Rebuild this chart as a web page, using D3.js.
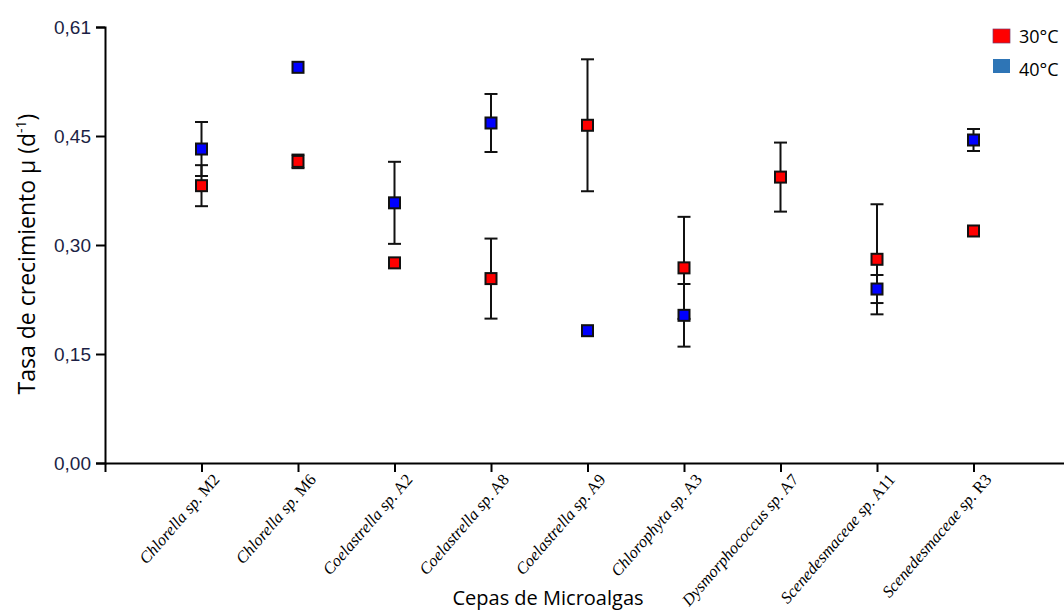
<!DOCTYPE html>
<html>
<head>
<meta charset="utf-8">
<script src="https://cdn.jsdelivr.net/npm/d3@7"></script>
<style>
  body { margin: 0; background: #fff; }
  svg { display: block; }
</style>
</head>
<body>
<svg id="chart" width="1064" height="612"></svg>
<script>
// cepas (eje x)
let strains = [
  ['Chlorella', 'sp. M2'],
  ['Chlorella', 'sp. M6'],
  ['Coelastrella', 'sp. A2'],
  ['Coelastrella', 'sp. A8'],
  ['Coelastrella', 'sp. A9'],
  ['Chlorophyta', 'sp. A3'],
  ['Dysmorphococcus', 'sp. A7'],
  ['Scenedesmaceae', 'sp. A11'],
  ['Scenedesmaceae', 'sp. R3']
];

// tasa de crecimiento µ (d-1)
let mu30 = [0.388, 0.422, 0.280, 0.258, 0.4725, 0.273, 0.400, 0.285, 0.3246];
let err30 = [0.0287, 0.0095, 0.004, 0.056, 0.0923, 0.0714, 0.0483, 0.077, 0];
let mu40 = [0.4393, 0.5536, 0.364, 0.4757, 0.1851, 0.2066, null, 0.2434, 0.4519];
let err40 = [0.0378, 0, 0.0574, 0.0406, 0, 0.0438, 0, 0.0196, 0.0154];

let yMax = 0.61;
let yTickLabels = ['0,00', '0,15', '0,30', '0,45', '0,61'];

let series = [
  { name: '30°C', values: mu30, errors: err30, fill: '#ff0000', legend: '#ff0000' },
  { name: '40°C', values: mu40, errors: err40, fill: '#0000ff', legend: '#2e75b6' }
];

let svg = d3.select('#chart');

let mLeft = 105, mTop = 27, mBottom = 463;

let x = d3.scaleLinear()
  .domain([0, 10])
  .range([mLeft, mLeft + 965]);

let y = d3.scaleLinear()
  .domain([0, yMax])
  .range([mBottom, mTop]);

let yTicks = yTickLabels.map((d, i) => i * yMax / (yTickLabels.length - 1));

// eje y
let yAxis = d3.axisLeft(y)
  .tickValues(yTicks)
  .tickFormat((d, i) => yTickLabels[i])
  .tickSize(9)
  .tickPadding(5);

let gy = svg.append('g')
  .attr('transform', 'translate(' + mLeft + ',0)')
  .call(yAxis);
gy.select('.domain').attr('stroke', '#000').attr('stroke-width', 2);
gy.selectAll('.tick line').attr('stroke', '#000').attr('stroke-width', 2);
gy.selectAll('.tick text')
  .attr('fill', '#1c1f45')
  .style('font-family', 'Liberation Sans, Arial, sans-serif')
  .style('font-size', '19px');

// eje x
let xAxis = d3.axisBottom(x)
  .tickValues(d3.range(0, strains.length + 1))
  .tickFormat('')
  .tickSize(9)
  .tickSizeOuter(0);

let gx = svg.append('g')
  .attr('transform', 'translate(0,' + mBottom + ')')
  .call(xAxis);
gx.select('.domain').attr('stroke', '#000').attr('stroke-width', 2);
gx.selectAll('.tick line').attr('stroke', '#000').attr('stroke-width', 2);

// etiquetas inclinadas
let labels = svg.append('g');
strains.forEach(function(s, i) {
  let tx = x(i + 1) + 19;
  let ty = mBottom + 17;
  let t = labels.append('text')
    .attr('transform', 'translate(' + tx + ',' + ty + ') rotate(-49)')
    .attr('text-anchor', 'end')
    .style('font-family', 'Liberation Serif, Times New Roman, serif')
    .style('font-size', '16.5px')
    .attr('fill', '#000');
  t.append('tspan').style('font-style', 'italic').text(s[0] + ' sp.');
  t.append('tspan').text(' ' + s[1].replace('sp. ', ''));
});

// titulos
svg.append('text')
  .attr('x', 548)
  .attr('y', 605)
  .attr('text-anchor', 'middle')
  .style('font-family', 'Open Sans, Noto Sans, sans-serif')
  .style('font-size', '20px')
  .text('Cepas de Microalgas');

let yt = svg.append('text')
  .attr('transform', 'translate(35,254) rotate(-90)')
  .attr('text-anchor', 'middle')
  .style('font-family', 'Open Sans, Noto Sans, sans-serif')
  .style('font-size', '23px');
yt.append('tspan').text('Tasa de crecimiento µ  (d');
yt.append('tspan').attr('dy', -9).style('font-size', '14px').text('-1');
yt.append('tspan').attr('dy', 9).text(')');

// barras de error
let capW = 13;
let bars = svg.append('g')
  .attr('stroke', '#111')
  .attr('stroke-width', 2)
  .attr('fill', 'none');

series.forEach(function(s) {
  s.values.forEach(function(v, i) {
    if (v === null || !s.errors[i]) return;
    let cx = x(i + 1);
    let y1 = y(v + s.errors[i]);
    let y2 = y(v - s.errors[i]);
    bars.append('line').attr('x1', cx).attr('x2', cx).attr('y1', y1).attr('y2', y2);
    bars.append('line').attr('x1', cx - capW / 2).attr('x2', cx + capW / 2).attr('y1', y1).attr('y2', y1);
    bars.append('line').attr('x1', cx - capW / 2).attr('x2', cx + capW / 2).attr('y1', y2).attr('y2', y2);
  });
});

// marcadores
let size = 11;
series.forEach(function(s) {
  svg.append('g')
    .selectAll('rect')
    .data(s.values.map((v, i) => ({ v: v, i: i })).filter(d => d.v !== null))
    .enter()
    .append('rect')
    .attr('x', d => x(d.i + 1) - size / 2)
    .attr('y', d => y(d.v) - size / 2)
    .attr('width', size)
    .attr('height', size)
    .attr('fill', s.fill)
    .attr('stroke', '#111')
    .attr('stroke-width', 2);
});

// leyenda
let legend = svg.append('g');
series.forEach(function(s, i) {
  legend.append('rect')
    .attr('x', 993)
    .attr('y', 29 + i * 30)
    .attr('width', 17)
    .attr('height', 14)
    .attr('fill', s.legend)
    .attr('stroke', i === 0 ? '#7a3a6a' : 'none')
    .attr('stroke-width', 0.7);
  legend.append('text')
    .attr('x', 1019)
    .attr('y', 43 + i * 33)
    .style('font-family', 'Open Sans, Noto Sans, sans-serif')
    .style('font-size', '18px')
    .text(s.name);
});
</script>
</body>
</html>
